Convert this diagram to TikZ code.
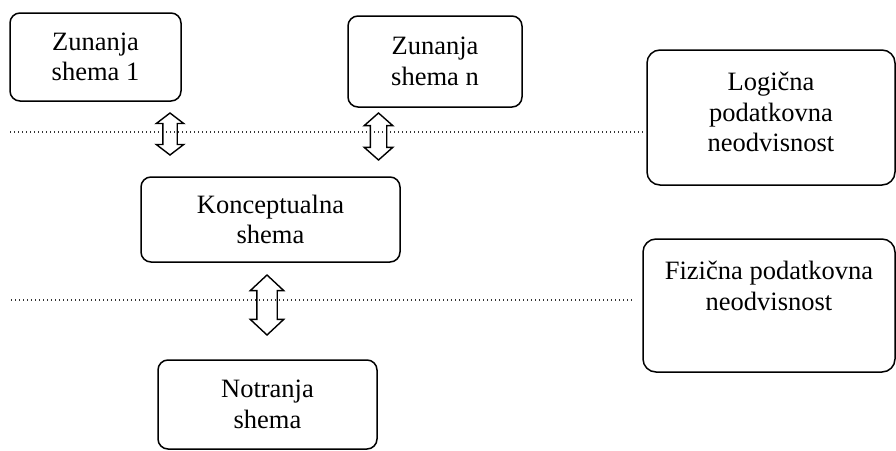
\documentclass[tikz,border=0pt]{standalone}
\usepackage{fontspec}
\setmainfont{Liberation Serif}
\usetikzlibrary{shapes.arrows}

\begin{document}
\begin{tikzpicture}[x=1pt,y=-1pt,
  shemabox/.style={draw,line width=1.5pt,rounded corners=10pt,align=center,inner sep=0pt,
    font=\fontsize{26.5}{30.5}\selectfont},
  dblarrow/.style={double arrow,draw,line width=1.4pt,rotate=90,inner xsep=0pt},
  levelline/.style={line width=1.2pt,black!80,dash pattern=on 1.3pt off 2.7pt}]
\useasboundingbox (0,0) rectangle (896,450);

% Schemas
\node[shemabox,minimum width=171pt,minimum height=88pt] (ext1) at (95.5,57) {Zunanja\\shema 1};
\node[shemabox,minimum width=174pt,minimum height=91pt] (extn) at (435,61.5) {Zunanja\\shema n};
\node[shemabox,minimum width=259pt,minimum height=85pt] (konc) at (270.5,219.5) {Konceptualna\\shema};
\node[shemabox,minimum width=219pt,minimum height=89pt] (notr) at (267.5,404.5) {Notranja\\shema};

% Independence boxes
\node[shemabox,rounded corners=13pt,minimum width=248pt,minimum height=135pt,text depth=11pt]
  (logind) at (771,117.5) {Logična\\podatkovna\\neodvisnost};
\node[shemabox,rounded corners=13pt,minimum width=252pt,minimum height=133pt,text depth=39pt]
  (fizind) at (769,305.5) {Fizična podatkovna\\neodvisnost};

% Level lines
\coordinate (lev1) at (10,132);
\coordinate (lev2) at (11,300);
\draw[levelline,shorten >=4pt] (lev1) -- (lev1 -| logind.west);
\draw[levelline,shorten >=10pt] (lev2) -- (lev2 -| fizind.west);

% Mappings
\node[dblarrow,minimum height=42pt,inner ysep=6.5pt,double arrow head extend=6.5pt,
  double arrow tip angle=105] (a1) at (170,134) {};
\node[dblarrow,minimum height=47pt,inner ysep=7.5pt,double arrow head extend=6pt,
  double arrow tip angle=97] (a2) at (378.5,136.5) {};
\node[dblarrow,minimum height=60pt,inner ysep=9.5pt,double arrow head extend=6.5pt,
  double arrow tip angle=94] (a3) at (267,305) {};
\end{tikzpicture}
\end{document}
